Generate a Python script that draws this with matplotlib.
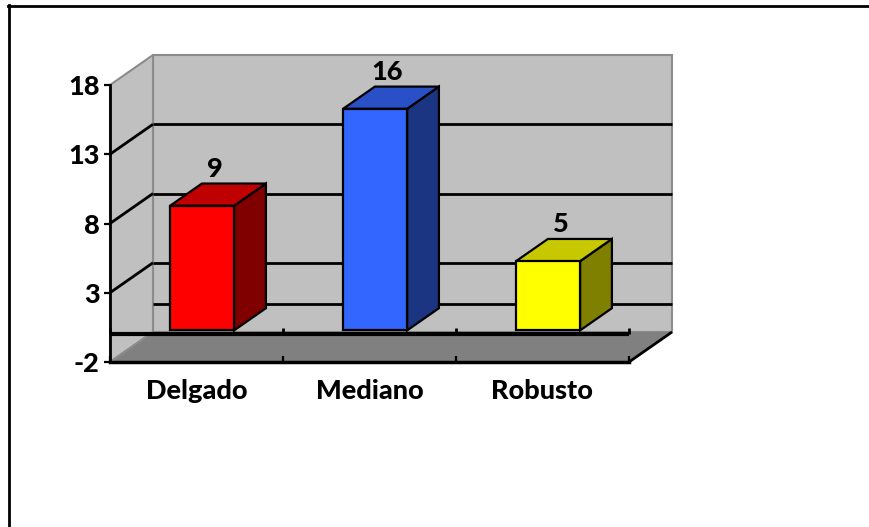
import matplotlib
matplotlib.use("Agg")
import matplotlib.pyplot as plt
from matplotlib.patches import Polygon
from matplotlib.lines import Line2D
from matplotlib.transforms import IdentityTransform

# ---- data ----
categories = ["Delgado", "Mediano", "Robusto"]
values = [9, 16, 5]
value_ticks = [-2, 3, 8, 13, 18]

front_colors = ["#FF0000", "#3366FF", "#FFFF00"]
top_colors = ["#C00000", "#2A50C8", "#C8C800"]
side_colors = ["#800000", "#1C3582", "#808000"]

WALL = "#C0C0C0"
WALL_EDGE = "#8C8C8C"
FLOOR = "#808080"
FONT = "Lato"
FW = 900
FS = 19.5

W, H = 870, 527
fig = plt.figure(figsize=(W / 100, H / 100), dpi=100)
fig.patch.set_facecolor("white")
ax = fig.add_axes([110 / W, 165 / H, 519 / W, 277 / H])
ax.set_xlim(-0.5, len(categories) - 0.5)
ax.set_ylim(value_ticks[0], value_ticks[-1])
ax.patch.set_visible(False)

# oblique depth offset (display pixels) of the back plane
DEPTH = (43.0, 30.0)
F0, F1 = 0.13, 0.87      # bar front/back depth fractions
BW = 0.37                # bar width in category units
x_lo, x_hi = ax.get_xlim()
v_lo, v_hi = ax.get_ylim()


def P(x, v, f):
    px, py = ax.transData.transform((x, v))
    return (px + DEPTH[0] * f, py + DEPTH[1] * f)


def poly(pts, face, edge="none", lw=0.0, z=1.0):
    p = Polygon(pts, closed=True, facecolor=face, edgecolor=edge, linewidth=lw,
                transform=IdentityTransform(), clip_on=False, zorder=z,
                joinstyle="miter")
    ax.add_artist(p)


def seg(a, b, color="black", lw=2.0, z=1.0):
    ax.add_artist(Line2D([a[0], b[0]], [a[1], b[1]], color=color, linewidth=lw,
                         transform=IdentityTransform(), clip_on=False, zorder=z,
                         solid_capstyle="butt"))


# walls
poly([P(x_lo, v_lo, 1), P(x_hi, v_lo, 1), P(x_hi, v_hi, 1), P(x_lo, v_hi, 1)],
     WALL, WALL_EDGE, 1.5, z=0.5)
poly([P(x_lo, v_lo, 0), P(x_lo, v_lo, 1), P(x_lo, v_hi, 1), P(x_lo, v_hi, 0)],
     WALL, WALL_EDGE, 1.5, z=0.5)
# floor
poly([P(x_lo, v_lo, 0), P(x_lo, v_lo, 1), P(x_hi, v_lo, 1), P(x_hi, v_lo, 0)],
     FLOOR, z=0.6)
seg(P(x_lo, v_lo, 0), P(x_lo, v_lo, 1), WALL_EDGE, 1.5, z=0.65)
seg(P(x_hi, v_lo, 0), P(x_hi, v_lo, 1), "black", 2.0, z=0.65)

# gridlines on back and side walls
for t in value_ticks[1:-1]:
    seg(P(x_lo, t, 1), P(x_hi, t, 1), "black", 2.0, z=0.8)
    seg(P(x_lo, t, 0), P(x_lo, t, 1), "black", 2.0, z=0.8)
# category axis (value 0) on the back wall and on the front plane
seg(P(x_lo, 0, 1), P(x_hi, 0, 1), "black", 2.0, z=0.8)
seg(P(x_lo, 0, 0), P(x_hi, 0, 0), "black", 3.0, z=0.9)
for k in range(len(categories) + 1):
    xb = x_lo + k
    a = P(xb, 0, 0)
    seg(a, (a[0], a[1] + 6), "black", 2.0, z=0.9)

# bars
for i, v in enumerate(values):
    x0, x1 = i - BW / 2, i + BW / 2
    poly([P(x1, 0, F0), P(x1, 0, F1), P(x1, v, F1), P(x1, v, F0)],
         side_colors[i], "black", 1.6, z=2)
    poly([P(x0, v, F0), P(x1, v, F0), P(x1, v, F1), P(x0, v, F1)],
         top_colors[i], "black", 1.6, z=2)
    poly([P(x0, 0, F0), P(x1, 0, F0), P(x1, v, F0), P(x0, v, F0)],
         front_colors[i], "black", 1.6, z=2.1)
    lx = P(i, v, 0.42)[0]
    ly = P(i, v, F1)[1] + 7
    ax.text(lx, ly, str(v), transform=IdentityTransform(), ha="center",
            va="baseline", fontsize=FS, fontweight=FW, family=FONT,
            color="black", zorder=3)

# axes: value axis on the left, floor front edge at the bottom
for s in ("top", "right"):
    ax.spines[s].set_visible(False)
ax.spines["left"].set_linewidth(2.0)
ax.spines["bottom"].set_linewidth(2.5)
ax.set_yticks(value_ticks)
ax.set_yticklabels([str(t) for t in value_ticks])
ax.tick_params(axis="y", direction="out", length=4.5, width=1.6, pad=3,
               labelsize=FS)
ax.set_xticks(range(len(categories)))
ax.set_xticklabels(categories)
ax.set_xticks([x_lo + k for k in range(len(categories) + 1)], minor=True)
ax.tick_params(axis="x", which="major", length=0, pad=12, labelsize=FS)
ax.tick_params(axis="x", which="minor", direction="in", length=4.5, width=1.6)
for lab in ax.get_xticklabels() + ax.get_yticklabels():
    lab.set_fontfamily(FONT)
    lab.set_fontweight(FW)

# chart frame
fig.add_artist(Line2D([8, W], [H - 6, H - 6], color="black", linewidth=2.0,
                      transform=IdentityTransform()))
fig.add_artist(Line2D([9, 9], [0, H - 5], color="black", linewidth=2.0,
                      transform=IdentityTransform()))

fig.savefig("out.png", dpi=100)
